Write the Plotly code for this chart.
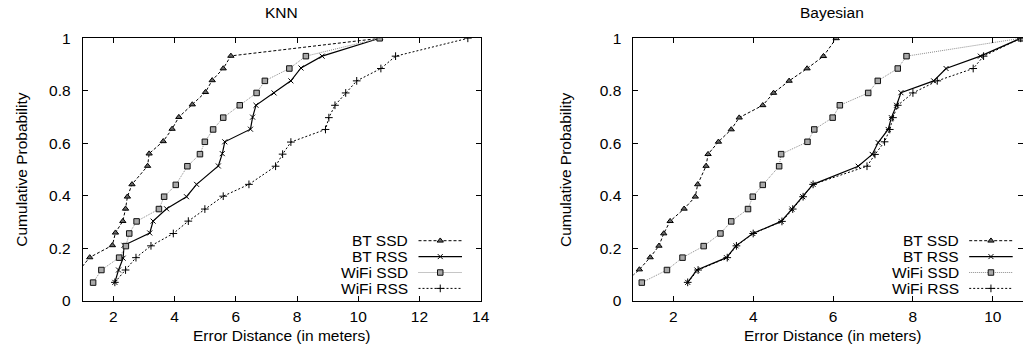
import plotly.graph_objects as go

W, H = 1023, 353

# ---- KNN: error distance (m) vs cumulative probability ----
knn_bt_ssd_x = [0.60, 0.88, 1.23, 1.97, 2.07, 2.31, 2.40, 2.46, 2.61, 3.12, 3.17, 3.63, 3.92,
                4.14, 4.58, 5.01, 5.23, 5.59, 5.84, 10.7]
knn_bt_ssd_y = [0.070, 0.116, 0.166, 0.212, 0.260, 0.304, 0.351, 0.397, 0.444, 0.514, 0.561,
                0.608, 0.655, 0.700, 0.748, 0.795, 0.840, 0.885, 0.933, 1.0]

knn_bt_rss_x = [2.05, 2.17, 2.32, 2.35, 3.19, 3.30, 3.74, 4.39, 4.72, 5.43, 5.56, 5.64, 6.48,
                6.55, 6.66, 7.25, 7.80, 8.13, 8.82, 10.7]
knn_bt_rss_y = [0.071, 0.118, 0.163, 0.212, 0.259, 0.304, 0.351, 0.397, 0.444, 0.514, 0.561,
                0.606, 0.654, 0.700, 0.745, 0.792, 0.838, 0.887, 0.932, 1.0]

knn_wifi_ssd_x = [1.34, 1.61, 2.19, 2.41, 2.52, 2.76, 3.49, 3.66, 4.04, 4.42, 4.83, 4.99, 5.26,
                  5.59, 6.13, 6.68, 6.95, 7.75, 8.29, 10.7]
knn_wifi_ssd_y = [0.070, 0.118, 0.165, 0.209, 0.257, 0.303, 0.350, 0.397, 0.442, 0.513, 0.559,
                  0.606, 0.653, 0.698, 0.745, 0.792, 0.838, 0.885, 0.932, 1.0]

knn_wifi_rss_x = [2.05, 2.40, 2.74, 3.23, 3.96, 4.45, 4.99, 5.59, 6.43, 7.30, 7.53, 7.80, 8.93,
                  9.04, 9.24, 9.59, 9.95, 10.74, 11.22, 13.58]
knn_wifi_rss_y = [0.071, 0.118, 0.165, 0.210, 0.257, 0.304, 0.350, 0.399, 0.444, 0.513, 0.559,
                  0.605, 0.653, 0.698, 0.745, 0.792, 0.838, 0.885, 0.932, 1.0]

# ---- Bayesian ----
bay_bt_ssd_x = [0.79, 1.15, 1.42, 1.64, 1.76, 1.92, 2.27, 2.55, 2.61, 2.82, 2.87, 3.13, 3.45,
                3.65, 4.24, 4.51, 4.90, 5.35, 5.76, 6.08]
bay_bt_ssd_y = [0.070, 0.120, 0.166, 0.210, 0.257, 0.304, 0.351, 0.397, 0.444, 0.514, 0.559,
                0.606, 0.653, 0.698, 0.745, 0.792, 0.838, 0.885, 0.932, 1.0]

bay_bt_rss_x = [2.36, 2.59, 3.33, 3.57, 3.99, 4.70, 4.97, 5.24, 5.50, 6.63, 6.98, 7.13, 7.38,
                7.46, 7.59, 7.70, 8.52, 8.83, 9.69, 10.7]
bay_bt_rss_y = [0.071, 0.118, 0.165, 0.210, 0.257, 0.303, 0.350, 0.397, 0.444, 0.513, 0.558,
                0.603, 0.653, 0.698, 0.745, 0.793, 0.838, 0.885, 0.932, 1.0]

bay_wifi_ssd_x = [1.21, 1.84, 2.23, 2.76, 3.18, 3.45, 3.87, 3.99, 4.24, 4.65, 4.70, 5.36, 5.53,
                  5.99, 6.17, 6.88, 7.12, 7.62, 7.84, 10.7]
bay_wifi_ssd_y = [0.070, 0.118, 0.165, 0.209, 0.257, 0.303, 0.350, 0.397, 0.442, 0.513, 0.559,
                  0.606, 0.653, 0.698, 0.745, 0.792, 0.838, 0.885, 0.932, 1.0]

bay_wifi_rss_x = [2.36, 2.62, 3.35, 3.58, 4.00, 4.72, 4.99, 5.25, 5.50, 6.85, 7.05, 7.29, 7.42,
                  7.50, 7.62, 8.00, 8.61, 9.51, 9.77, 10.7]
bay_wifi_rss_y = [0.071, 0.118, 0.165, 0.210, 0.257, 0.303, 0.350, 0.397, 0.444, 0.513, 0.558,
                  0.606, 0.653, 0.698, 0.745, 0.792, 0.838, 0.885, 0.932, 1.0]

series_names = ["BT SSD", "BT RSS", "WiFi SSD", "WiFi RSS"]
x_ticks_knn = [2, 4, 6, 8, 10, 12, 14]
x_ticks_bay = [2, 4, 6, 8, 10]
y_ticks = [0, 0.2, 0.4, 0.6, 0.8, 1]

FONT = "Liberation Sans, Arial, Helvetica, sans-serif"
FS = 15.5

styles = {
    "BT SSD": dict(line=dict(color="black", width=1, dash="3px,2px"),
                   marker=dict(symbol="triangle-up", size=5.5, color="#666666",
                               line=dict(color="black", width=1))),
    "BT RSS": dict(line=dict(color="black", width=1.2),
                   marker=dict(symbol="x-thin-open", size=5, color="black",
                               line=dict(color="black", width=1))),
    "WiFi SSD": dict(line=dict(color="#8c8c8c", width=1, dash="1px,1px"),
                     marker=dict(symbol="square", size=5.5, color="#a8a8a8",
                                 line=dict(color="#111111", width=1))),
    "WiFi RSS": dict(line=dict(color="black", width=1, dash="2px,2px"),
                     marker=dict(symbol="cross-thin-open", size=5.5, color="black",
                                 line=dict(color="black", width=1))),
}

fig = go.Figure()

panels = [
    ("x", "y", [(knn_bt_ssd_x, knn_bt_ssd_y), (knn_bt_rss_x, knn_bt_rss_y),
                (knn_wifi_ssd_x, knn_wifi_ssd_y), (knn_wifi_rss_x, knn_wifi_rss_y)]),
    ("x2", "y2", [(bay_bt_ssd_x, bay_bt_ssd_y), (bay_bt_rss_x, bay_bt_rss_y),
                  (bay_wifi_ssd_x, bay_wifi_ssd_y), (bay_wifi_rss_x, bay_wifi_rss_y)]),
]
for xa, ya, data in panels:
    for name, (xs, ys) in zip(series_names, data):
        st = styles[name]
        fig.add_trace(go.Scatter(x=xs, y=ys, mode="lines+markers", name=name,
                                 line=st["line"], marker=st["marker"],
                                 xaxis=xa, yaxis=ya, showlegend=False))

# pixel geometry of the two plot frames
knn_left, knn_right = 82.7, 480.7
bay_left, bay_px_per_unit = 633.4, 39.93
plot_top, plot_bottom = 38.3, 301.0
bay_xmax = 1 + (W - bay_left) / bay_px_per_unit

ydom = [1 - plot_bottom / H, 1 - plot_top / H]

axis_common = dict(showline=True, linecolor="black", linewidth=1, mirror="allticks",
                   ticks="inside", ticklen=5, tickwidth=1, tickcolor="black",
                   showgrid=False, zeroline=False, automargin=False,
                   tickfont=dict(family=FONT, size=FS, color="black"))

fig.update_layout(
    template="none",
    width=W, height=H,
    margin=dict(l=0, r=0, t=0, b=0, pad=0),
    paper_bgcolor="white", plot_bgcolor="rgba(0,0,0,0)",
    font=dict(family=FONT, size=FS, color="black"),
    showlegend=False,
    xaxis=dict(domain=[knn_left / W, knn_right / W], range=[1, 14], tickvals=x_ticks_knn,
               anchor="y", ticklabelstandoff=1, **axis_common),
    yaxis=dict(domain=ydom, range=[0, 1], tickvals=y_ticks, anchor="x",
               ticklabelstandoff=8, **axis_common),
    xaxis2=dict(domain=[bay_left / W, 1.0], range=[1, bay_xmax], tickvals=x_ticks_bay,
                anchor="y2", ticklabelstandoff=1, **axis_common),
    yaxis2=dict(domain=ydom, range=[0, 1], tickvals=y_ticks, anchor="x2",
                ticklabelstandoff=8, **axis_common),
    # full-page pixel axes used only for the key samples
    xaxis3=dict(domain=[0, 1], range=[0, W], visible=False, anchor="y3", automargin=False),
    yaxis3=dict(domain=[0, 1], range=[H, 0], visible=False, anchor="x3", automargin=False),
)

# key (text right-aligned, sample line to its right), one per panel
key_rows = [240.7, 256.6, 272.5, 288.4]
for text_right in (410.0, 960.7):
    x0, x1 = text_right + 8.5, text_right + 52
    xm = (x0 + x1) / 2
    for name, yk in zip(series_names, key_rows):
        st = styles[name]
        fig.add_trace(go.Scatter(x=[x0, x1], y=[yk, yk], mode="lines", line=st["line"],
                                 xaxis="x3", yaxis="y3", showlegend=False, hoverinfo="skip"))
        fig.add_trace(go.Scatter(x=[xm], y=[yk], mode="markers", marker=st["marker"],
                                 xaxis="x3", yaxis="y3", showlegend=False, hoverinfo="skip"))
        fig.add_annotation(x=text_right / W, y=1 - yk / H, xref="paper", yref="paper",
                           text=name, showarrow=False, xanchor="right", yanchor="middle",
                           font=dict(family=FONT, size=FS, color="black"))

# titles and axis titles
knn_cx = (knn_left + knn_right) / 2
bay_cx = 832.0
for cx, title, ylab_x in ((knn_cx, "KNN", 20.7), (bay_cx, "Bayesian", 565.0)):
    fig.add_annotation(x=cx / W, y=1 - 13 / H, xref="paper", yref="paper", text=title,
                       showarrow=False, xanchor="center", yanchor="middle",
                       font=dict(family=FONT, size=FS, color="black"))
    fig.add_annotation(x=cx / W, y=1 - 335 / H, xref="paper", yref="paper",
                       text="Error Distance (in meters)", showarrow=False,
                       xanchor="center", yanchor="middle",
                       font=dict(family=FONT, size=FS, color="black"))
    fig.add_annotation(x=ylab_x / W, y=1 - 170 / H, xref="paper", yref="paper",
                       text="Cumulative Probability", showarrow=False, textangle=-90,
                       xanchor="center", yanchor="middle",
                       font=dict(family=FONT, size=FS, color="black"))

fig.write_html("out.html")
